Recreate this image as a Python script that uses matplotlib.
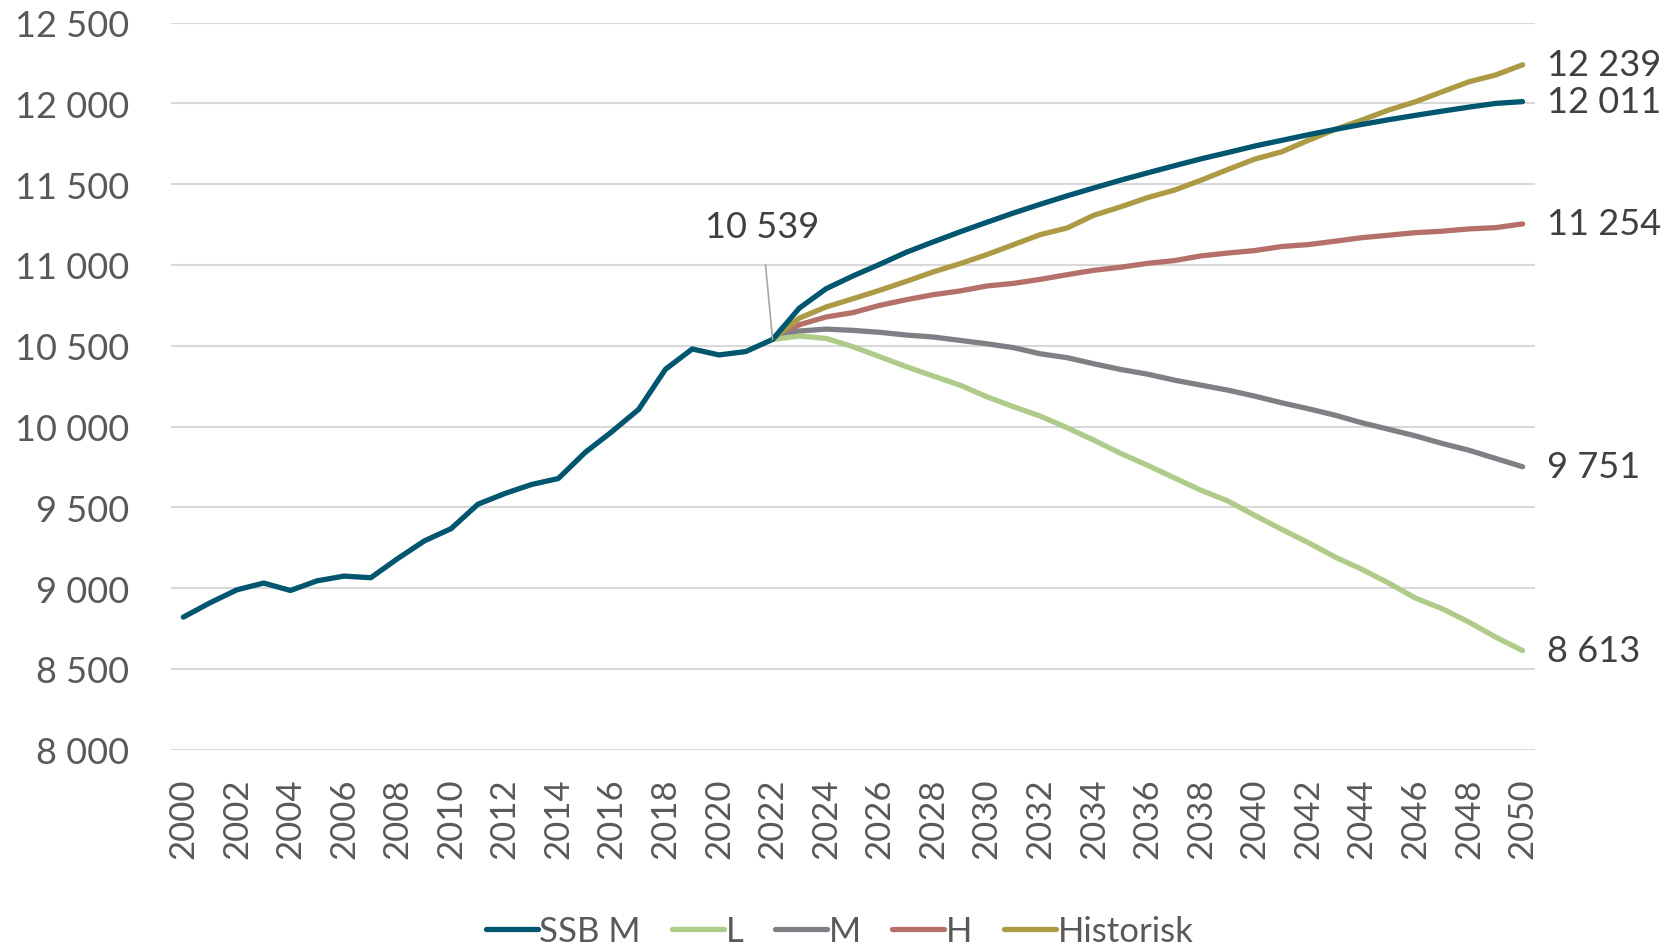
import matplotlib
matplotlib.use("Agg")
import matplotlib.pyplot as plt

plt.rcParams['font.family'] = ['Lato', 'DejaVu Sans']

years_hist = list(range(2000, 2023))
hist = [8820, 8909, 8989, 9031, 8985, 9045, 9074, 9064, 9182, 9292, 9368,
        9519, 9585, 9641, 9678, 9839, 9968, 10106, 10354, 10480, 10443, 10464, 10539]

years_proj = list(range(2022, 2051))
ssb_m = [10539, 10733, 10853, 10932, 11004, 11079, 11143, 11205, 11264, 11322,
         11376, 11428, 11477, 11525, 11570, 11614, 11657, 11696, 11736, 11771,
         11806, 11839, 11870, 11899, 11926, 11952, 11977, 12000, 12011]
low = [10539, 10560, 10545, 10494, 10432, 10370, 10312, 10256, 10184, 10122,
       10064, 9992, 9915, 9833, 9760, 9682, 9605, 9539, 9450, 9364,
       9281, 9192, 9116, 9031, 8938, 8872, 8789, 8696, 8613]
mid = [10539, 10591, 10603, 10595, 10583, 10566, 10554, 10533, 10512, 10488,
       10450, 10426, 10388, 10353, 10324, 10287, 10256, 10225, 10188, 10147,
       10110, 10070, 10023, 9983, 9942, 9895, 9853, 9802, 9751]
high = [10539, 10630, 10678, 10705, 10750, 10785, 10816, 10839, 10870, 10886,
        10911, 10940, 10967, 10986, 11010, 11027, 11056, 11074, 11089, 11114,
        11126, 11147, 11169, 11184, 11200, 11209, 11223, 11231, 11254]
historisk = [10539, 10671, 10740, 10791, 10843, 10899, 10957, 11008, 11064, 11126,
             11188, 11229, 11308, 11360, 11417, 11463, 11525, 11591, 11655, 11700,
             11771, 11839, 11897, 11959, 12010, 12072, 12134, 12176, 12239]

series = [
    ('SSB M', ssb_m, '#00566E'),
    ('L', low, '#AFCB8A'),
    ('M', mid, '#7F7F85'),
    ('H', high, '#B5706A'),
    ('Historisk', historisk, '#AD9A45'),
]

text_col = '#595959'
lbl_col = '#404040'

fig = plt.figure(figsize=(16.79, 9.45), dpi=100)
ax = fig.add_axes([0.102, 0.2057, 0.812, 0.7693])

# history drawn in the SSB M colour
ax.plot(years_hist, hist, color='#00566E', lw=3.8, solid_capstyle='round', zorder=3)
# draw order: projections, SSB M on top of low ones
order = [3, 2, 1, 4, 0]
handles = {}
for i in order:
    name, vals, col = series[i]
    ln, = ax.plot(years_proj, vals, color=col, lw=3.8, solid_capstyle='round',
                  solid_joinstyle='round', zorder=3)
    handles[name] = ln
    ax.text(2050.9, vals[-1], f"{vals[-1]:,}".replace(',', ' '), va='center', ha='left',
            fontsize=26, color=lbl_col)

ax.annotate(f"{hist[-1]:,}".replace(',', ' '), xy=(2022, hist[-1]), xytext=(2021.6, 11240),
            ha='center', va='center', fontsize=26, color=lbl_col,
            arrowprops=dict(arrowstyle='-', color='#A6A6A6', lw=1.2, shrinkA=14, shrinkB=0))

ax.set_xlim(1999.55, 2050.45)
ax.set_ylim(8000, 12500)
ax.set_yticks(range(8000, 12501, 500))
ax.set_yticklabels([f"{v:,}".replace(',', ' ') for v in range(8000, 12501, 500)])
ax.set_xticks(range(2000, 2051, 2))
ax.set_xticklabels([str(y) for y in range(2000, 2051, 2)], rotation=90)
ax.tick_params(axis='y', length=0, pad=30, labelsize=26, labelcolor=text_col)
ax.tick_params(axis='x', length=0, pad=20, labelsize=25, labelcolor=text_col)
ax.yaxis.grid(True, color='#D9D9D9', lw=1.5)
ax.set_axisbelow(True)
for s in ax.spines.values():
    s.set_visible(False)

names = ['SSB M', 'L', 'M', 'H', 'Historisk']
leg = fig.legend([handles[n] for n in names], names, loc='lower center', bbox_to_anchor=(0.5, -0.036),
                 ncol=5, frameon=False, fontsize=25, handlelength=1.5, handletextpad=0.05,
                 columnspacing=0.9, labelcolor=text_col)

fig.savefig('out.png', dpi=100)
